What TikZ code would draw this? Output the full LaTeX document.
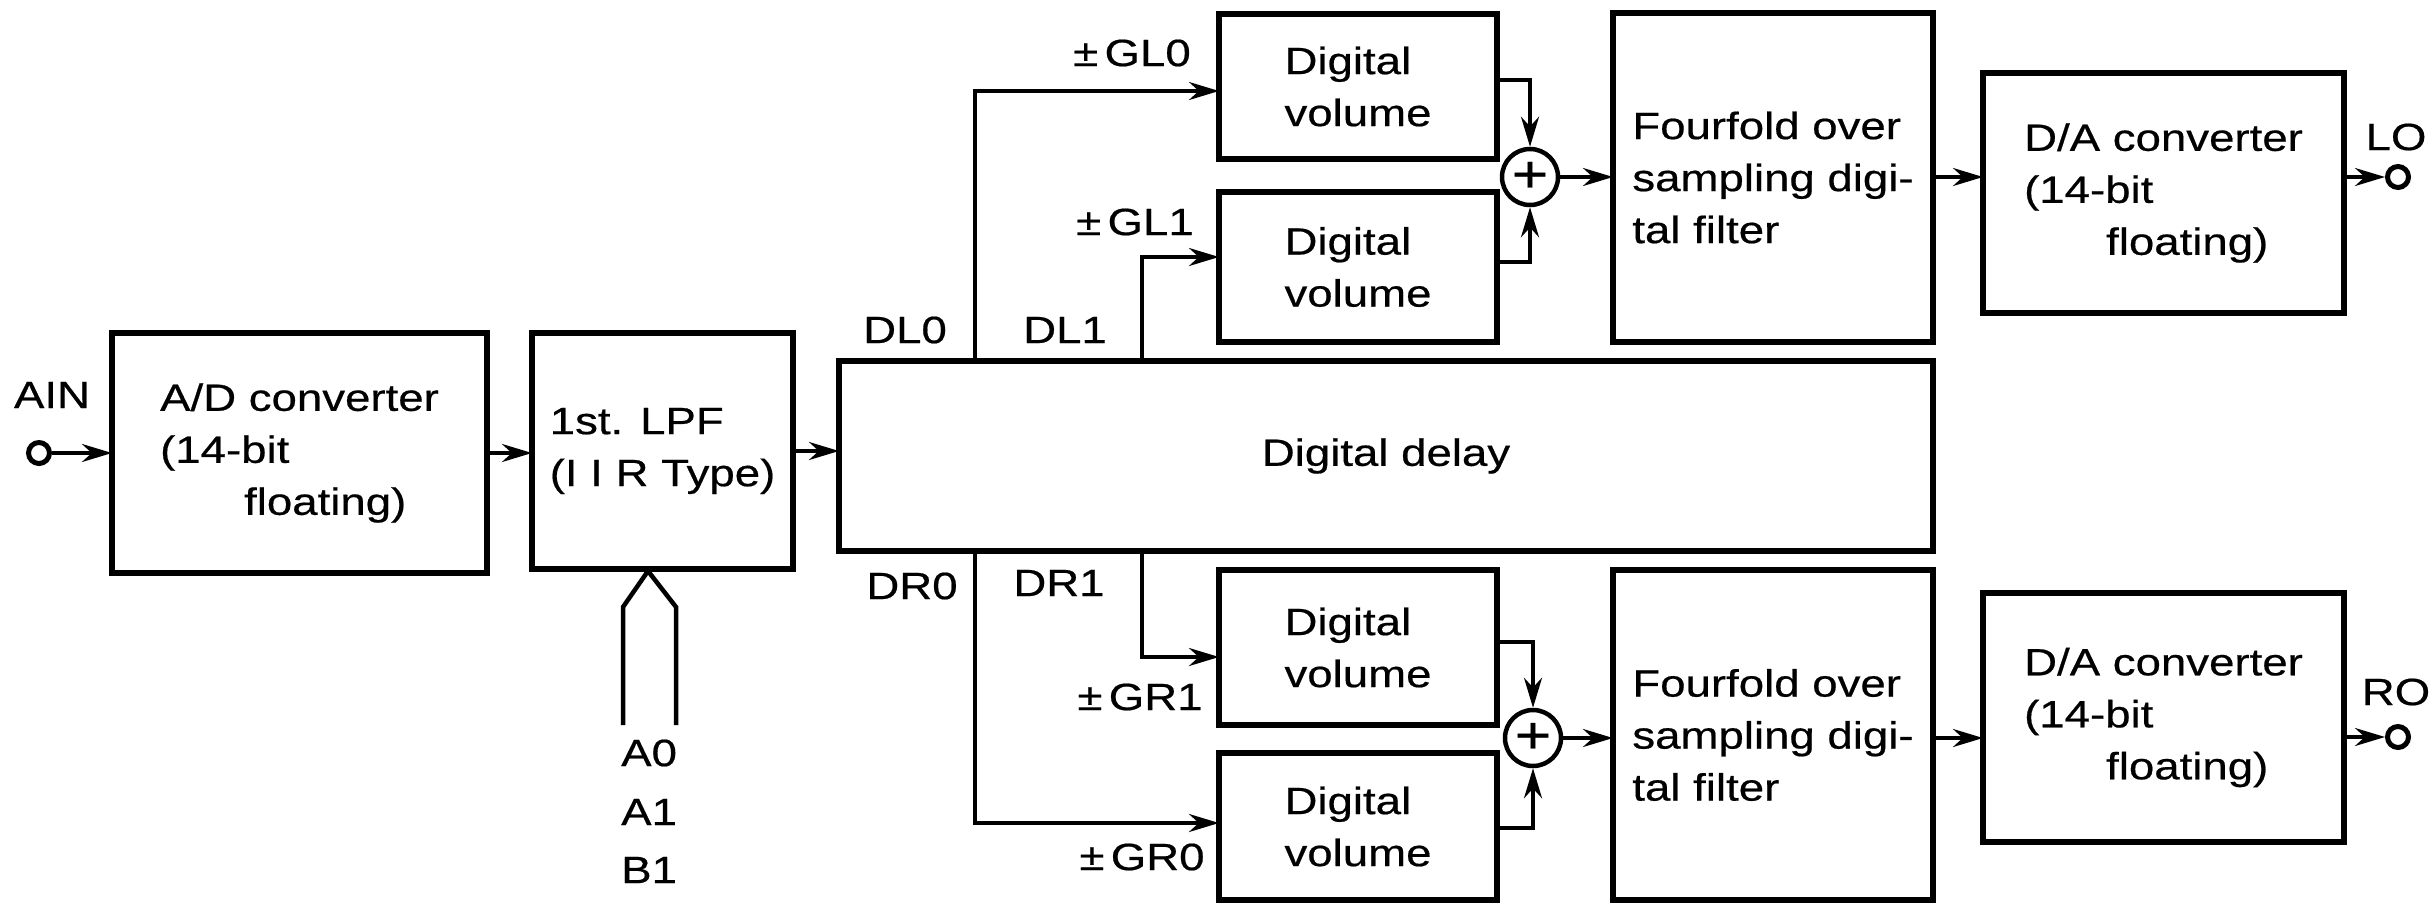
\documentclass[tikz,border=0pt]{standalone}
\usepackage{fontspec}
\setmainfont[FakeStretch=1.2,FakeBold=0.5]{Liberation Sans}
\usetikzlibrary{arrows.meta}
\tikzset{
  blk/.style={draw,line width=6pt,align=left,inner sep=0pt,outer sep=0pt},
  lbl/.style={inner sep=0pt},
  wire/.style={line width=3.5pt},
  arr/.style={wire,-{Stealth[length=30pt,width=18pt]}},
  port/.style={circle,draw,line width=5pt,minimum size=21pt,inner sep=0pt},
  adder/.style={circle,draw,line width=4.5pt,minimum size=56pt,inner sep=0pt,font=\fontsize{52pt}{52pt}\selectfont}
}
\begin{document}
\begin{tikzpicture}[x=1pt,y=-1pt,font=\fontsize{38pt}{52pt}\selectfont]
  \useasboundingbox (0,0) rectangle (2436,905);
  \node[blk,minimum width=375pt,minimum height=240pt] (ad) at (299.5,453) {A/D converter\\(14-bit\\\hspace*{84pt}floating)};
  \node[blk,minimum width=261pt,minimum height=236pt] (lpf) at (662.5,451) {1st. LPF\\(I I R Type)};
  \node[blk,minimum width=1094pt,minimum height=190pt] (delay) at (1386,456) {Digital delay};
  \node[blk,minimum width=278pt,minimum height=145pt] (dv1) at (1358,86.5) {Digital\\volume};
  \node[blk,minimum width=278pt,minimum height=150pt] (dv2) at (1358,267) {Digital\\volume};
  \node[blk,minimum width=278pt,minimum height=155pt] (dv3) at (1358,647.5) {Digital\\volume};
  \node[blk,minimum width=278pt,minimum height=147pt] (dv4) at (1358,826.5) {Digital\\volume};
  \node[adder] (sum1) at (1530,177) {+};
  \node[adder] (sum2) at (1533,738) {+};
  \node[blk,minimum width=320pt,minimum height=329pt] (ff1) at (1773,177.5) {Fourfold over\\sampling digi-\\tal filter};
  \node[blk,minimum width=320pt,minimum height=330pt] (ff2) at (1773,735) {Fourfold over\\sampling digi-\\tal filter};
  \node[blk,minimum width=361pt,minimum height=240pt] (da1) at (2163.5,193) {D/A converter\\(14-bit\\\hspace*{82pt}floating)};
  \node[blk,minimum width=361pt,minimum height=249pt] (da2) at (2163.5,717.5) {D/A converter\\(14-bit\\\hspace*{82pt}floating)};
  \node[port] (ain) at (39,453) {};
  \node[port] (lo) at (2398,177) {};
  \node[port] (ro) at (2398,737) {};

  \node[lbl] (ainlbl) at (52,395) {AIN};
  \node[lbl] (lolbl) at (2396,137) {LO};
  \node[lbl] (rolbl) at (2396,692) {RO};
  \node[lbl] (dl0lbl) at (905,330) {DL0};
  \node[lbl] (dl1lbl) at (1065,330) {DL1};
  \node[lbl] (dr0lbl) at (912,586) {DR0};
  \node[lbl] (dr1lbl) at (1059,583) {DR1};
  \node[lbl] (gl0lbl) at (1132,53) {±\,GL0};
  \node[lbl] (gl1lbl) at (1135,222) {±\,GL1};
  \node[lbl] (gr1lbl) at (1140,697) {±\,GR1};
  \node[lbl] (gr0lbl) at (1142,857) {±\,GR0};
  \node[lbl,anchor=west] (a0lbl) at (621,753) {A0};
  \node[lbl,anchor=west] (a1lbl) at (621,812) {A1};
  \node[lbl,anchor=west] (b1lbl) at (621,870) {B1};

  \draw[arr] (ain) -- (ad);
  \draw[arr] (ad.east) -- (ad.east -| lpf.west);
  \draw[arr] (lpf.east) -- (lpf.east -| delay.west);
  \coordinate (bustip) at (648,571);
  \draw[wire,line width=4.5pt] (bustip) ++(-25,154) -- ++(0,-118) -- (bustip) -- ++(28,36) -- ++(0,118);

  \coordinate (bus0) at (975,0);
  \coordinate (bus1) at (1142,0);
  \draw[arr] (bus0 |- delay.north) |- ([yshift=-4.5pt]dv1.west);
  \draw[arr] (bus1 |- delay.north) |- ([yshift=10pt]dv2.west);
  \draw[arr] (bus1 |- delay.south) |- ([yshift=-9.5pt]dv3.west);
  \draw[arr] (bus0 |- delay.south) |- ([yshift=3.5pt]dv4.west);

  \draw[arr] ([yshift=6.5pt]dv1.east) -| (sum1);
  \draw[arr] ([yshift=5pt]dv2.east) -| (sum1);
  \draw[arr] ([yshift=5.5pt]dv3.east) -| (sum2);
  \draw[arr] ([yshift=-1.5pt]dv4.east) -| (sum2);
  \draw[arr] (sum1) -- (sum1 -| ff1.west);
  \draw[arr] (sum2) -- (sum2 -| ff2.west);
  \draw[arr] (ff1.east |- sum1) -- (sum1 -| da1.west);
  \draw[arr] (ff2.east |- sum2) -- (sum2 -| da2.west);
  \draw[arr] (da1.east |- lo) -- (lo);
  \draw[arr] (da2.east |- ro) -- (ro);
\end{tikzpicture}
\end{document}
